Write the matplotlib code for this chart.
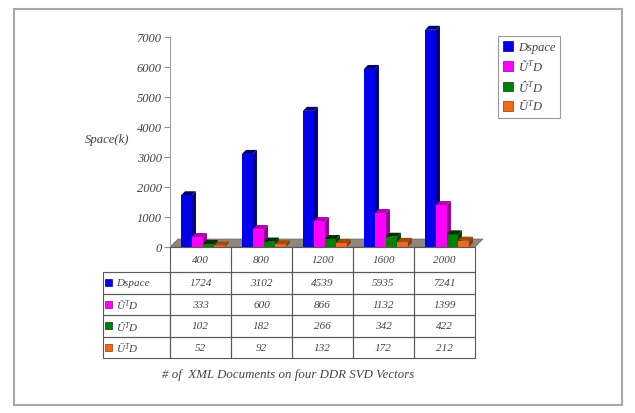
import matplotlib
matplotlib.use('Agg')
import matplotlib.pyplot as plt
from matplotlib.patches import Polygon, Rectangle, Patch

plt.rcParams['font.family'] = 'Liberation Serif'
plt.rcParams['font.style'] = 'italic'
plt.rcParams['mathtext.fontset'] = 'custom'
plt.rcParams['mathtext.it'] = 'Liberation Serif:italic'
plt.rcParams['mathtext.rm'] = 'Liberation Serif:italic'

# number of XML documents (categories)
doc_counts = ['400', '800', '1200', '1600', '2000']
series_names = ['Dspace', 'Ũ$^T$D', 'Û$^T$D', 'Ū$^T$D']
dspace = [1724, 3102, 4539, 5935, 7241]
u_tilde_d = [333, 600, 866, 1132, 1399]
u_hat_d = [102, 182, 266, 342, 422]
u_bar_d = [52, 92, 132, 172, 212]
series_values = [dspace, u_tilde_d, u_hat_d, u_bar_d]

front_colors = ['#0000ee', '#ff00ff', '#008000', '#f06a1c']
side_colors = ['#000088', '#900090', '#004000', '#8a3a08']
top_colors = ['#000070', '#b000b0', '#003000', '#a04a10']
text_color = '#444444'

W, H = 635, 414
AX_L, AX_R, AX_B, AX_T = 170, 475, 248, 38


def fx(px):
    return px / W


def fy(py):
    return 1 - py / H


fig = plt.figure(figsize=(W / 100, H / 100), dpi=100)
fig.patch.set_facecolor('white')

ax = fig.add_axes([fx(AX_L), fy(AX_B), fx(AX_R) - fx(AX_L), fy(AX_T) - fy(AX_B)])
ax.set_xlim(0, len(doc_counts))
ax.set_ylim(0, 7000)
ax.set_yticks(range(0, 7001, 1000))
ax.set_xticks([])
for side in ['top', 'right', 'bottom']:
    ax.spines[side].set_visible(False)
ax.spines['left'].set_color('#a0a0a0')
ax.tick_params(axis='y', direction='out', length=4, width=0.8, color='#909090',
               labelsize=9, labelcolor=text_color, pad=2)
ax.patch.set_alpha(0)

# fake 3-D depth, in data units
px_x = len(doc_counts) / (AX_R - AX_L)
px_y = 7000 / (AX_B - AX_T)
dxf, dyf = 8 * px_x, 8 * px_y
dx, dy = 4 * px_x, 4 * px_y

floor = Polygon([(0, 0), (len(doc_counts), 0),
                 (len(doc_counts) + dxf, dyf), (dxf, dyf)],
                closed=True, facecolor='#8e877c', edgecolor='#6f6a62',
                lw=0.5, clip_on=False, zorder=1)
ax.add_patch(floor)

w = 0.18
for k, vals in enumerate(series_values):
    for i, v in enumerate(vals):
        x0 = i + 0.18 + w * k
        ax.bar(x0, v, width=w, align='edge', color=front_colors[k],
               edgecolor='none', zorder=2 + k, clip_on=False)
        side = Polygon([(x0 + w, 0), (x0 + w + dx, dy), (x0 + w + dx, v + dy), (x0 + w, v)],
                       closed=True, facecolor=side_colors[k], edgecolor='none',
                       zorder=2 + k, clip_on=False)
        top = Polygon([(x0, v), (x0 + w, v), (x0 + w + dx, v + dy), (x0 + dx, v + dy)],
                      closed=True, facecolor=top_colors[k], edgecolor='none',
                      zorder=2 + k, clip_on=False)
        ax.add_patch(side)
        ax.add_patch(top)

fig.text(fx(107), fy(140), 'Space(k)', ha='center', va='center',
         fontsize=9.2, color=text_color)


# data table under the chart, cells laid out in pixels
def cell_px(x0, y0, x1, y1):
    r = Rectangle((fx(x0), fy(y1)), fx(x1) - fx(x0), fy(y0) - fy(y1),
                  transform=fig.transFigure, fill=False,
                  edgecolor='#5a5a5a', lw=0.8)
    fig.add_artist(r)


col_w = (AX_R - AX_L) / len(doc_counts)
col_edges = [AX_L + col_w * j for j in range(len(doc_counts) + 1)]
label_left = 103
head_h, row_h = 25, 21.5
row_edges = [AX_B + head_h + row_h * r for r in range(len(series_names) + 1)]
txt_kw = dict(ha='center', va='center', fontsize=8, color=text_color)

for j, lab in enumerate(doc_counts):
    cell_px(col_edges[j], AX_B, col_edges[j + 1], AX_B + head_h)
    fig.text(fx((col_edges[j] + col_edges[j + 1]) / 2), fy(AX_B + head_h / 2), lab, **txt_kw)

for r, (name, vals) in enumerate(zip(series_names, series_values)):
    y0, y1 = row_edges[r], row_edges[r + 1]
    yc = (y0 + y1) / 2
    cell_px(label_left, y0, AX_L, y1)
    fig.add_artist(Rectangle((fx(105), fy(yc + 3.5)), fx(7), 7 / H,
                             transform=fig.transFigure, facecolor=front_colors[r],
                             edgecolor=side_colors[r], lw=0.5))
    fig.text(fx(116), fy(yc), name, ha='left', va='center', fontsize=8, color=text_color)
    for j, v in enumerate(vals):
        cell_px(col_edges[j], y0, col_edges[j + 1], y1)
        fig.text(fx((col_edges[j] + col_edges[j + 1]) / 2), fy(yc), str(v), **txt_kw)

handles = [Patch(facecolor=front_colors[k], edgecolor=side_colors[k], lw=0.5)
           for k in range(len(series_names))]
leg = fig.legend(handles, series_names, loc='upper left',
                 bbox_to_anchor=(fx(498), fy(37)), frameon=True, fancybox=False,
                 edgecolor='#808080', handlelength=0.8, handleheight=0.8,
                 handletextpad=0.4, borderpad=0.4, labelspacing=0.42,
                 fontsize=9, borderaxespad=0)
leg.get_frame().set_linewidth(0.8)
for t in leg.get_texts():
    t.set_color(text_color)

fig.text(fx(288), fy(375), '# of  XML Documents on four DDR SVD Vectors',
         ha='center', va='center', fontsize=9.3, color=text_color)

fig.add_artist(Rectangle((fx(14), fy(406)), fx(622) - fx(14), fy(10) - fy(406),
                         transform=fig.transFigure, fill=False,
                         edgecolor='#a8a8a8', lw=1.5))

fig.savefig('out.png', dpi=100)
